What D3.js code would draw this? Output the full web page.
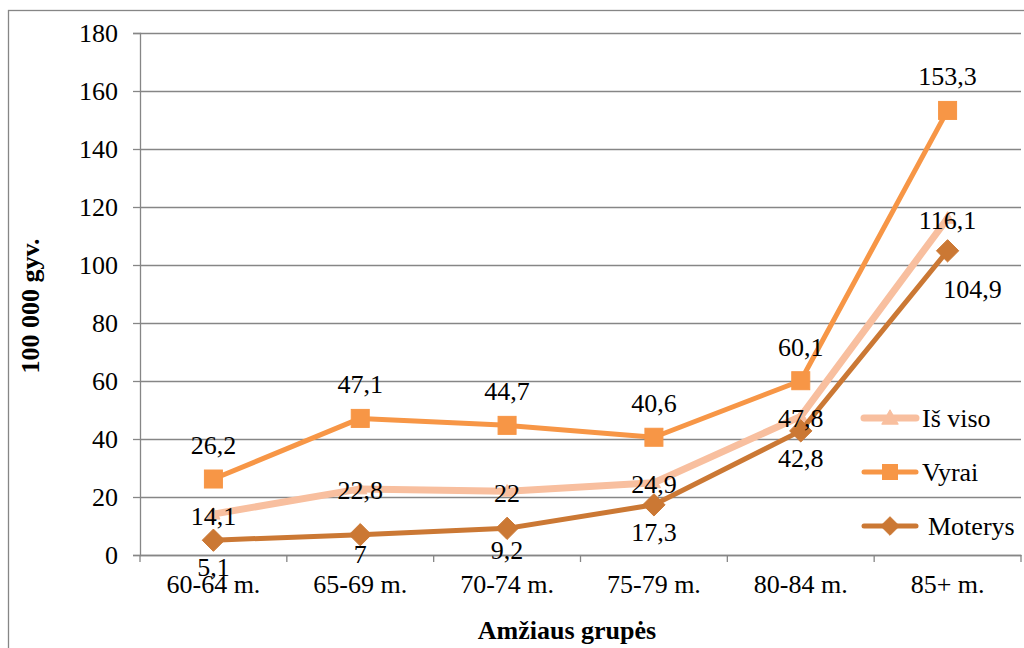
<!DOCTYPE html>
<html>
<head>
<meta charset="utf-8">
<script src="https://cdn.jsdelivr.net/npm/d3@7"></script>
<style>
  html, body { margin: 0; padding: 0; background: #fff; }
  svg { display: block; }
</style>
</head>
<body>
<svg id="chart" width="1024" height="648"></svg>
<script>
// ---- data ----
const categories = ["60-64 m.", "65-69 m.", "70-74 m.", "75-79 m.", "80-84 m.", "85+ m."];
const isViso  = [14.1, 22.8, 22, 24.9, 47.8, 116.1];
const vyrai   = [26.2, 47.1, 44.7, 40.6, 60.1, 153.3];
const moterys = [5.1, 7, 9.2, 17.3, 42.8, 104.9];
const seriesNames = ["Iš viso", "Vyrai", "Moterys"];
const yTicks = [0, 20, 40, 60, 80, 100, 120, 140, 160, 180];
const xTitle = "Amžiaus grupės";
const yTitle = "100 000 gyv.";

// ---- layout / style ----
const svg = d3.select("#chart");
const plot = { left: 140, right: 1021, top: 33, bottom: 555 };
const FONT = '"Liberation Serif"';
const FS = 26;
const gridColor = "#868686";
const styles = [
  { color: "#F8BF9F", width: 7, marker: "triangle", label: "center" },
  { color: "#F79646", width: 5, marker: "square",   label: "above" },
  { color: "#CB7834", width: 5, marker: "diamond",  label: "below" }
];
// manual label nudges (dx, dy), like hand-moved Excel labels
const labelNudge = [
  [[0,0],[0,0],[0,0],[0,0],[0,0],[0,0]],
  [[0,0],[0,0],[0,0],[0,0],[0,0],[0,0]],
  [[0,0],[0,-8],[0,-5],[0,0],[0,0],[25,11]]
];
const allSeries = [isViso, vyrai, moterys];

const x = d3.scaleBand().domain(categories).range([plot.left, plot.right]).padding(0);
const y = d3.scaleLinear().domain([0, 180]).range([plot.bottom, plot.top]);
const cx = c => x(c) + x.bandwidth() / 2;

function styleText(sel, size, weight) {
  return sel.style("font-family", FONT).style("font-size", (size || FS) + "px")
    .style("font-weight", weight || "normal").attr("fill", "#000");
}

// outer border
svg.append("rect")
  .attr("x", 8.5).attr("y", 10.5).attr("width", 1040).attr("height", 660)
  .attr("fill", "none").attr("stroke", gridColor).attr("stroke-width", 1.3);

// gridlines + y axis
const yAxis = d3.axisLeft(y).tickValues(yTicks).tickSize(7).tickPadding(15)
  .tickFormat(d => String(d));
const gy = svg.append("g").attr("transform", `translate(${plot.left},0)`).call(yAxis);
gy.select(".domain").attr("stroke", gridColor).attr("stroke-width", 1.3);
gy.selectAll(".tick line").attr("stroke", gridColor).attr("stroke-width", 1.3);
styleText(gy.selectAll(".tick text"));
gy.selectAll(".tick").append("line")
  .attr("x1", 0).attr("x2", plot.right - plot.left)
  .attr("stroke", gridColor).attr("stroke-width", 1.3);

// x axis
const xAxis = d3.axisBottom(x).tickSize(0).tickPadding(20);
const gx = svg.append("g").attr("transform", `translate(0,${plot.bottom})`).call(xAxis);
gx.select(".domain").attr("stroke", gridColor).attr("stroke-width", 1.3);
styleText(gx.selectAll(".tick text"));
const bounds = categories.map(c => x(c)).concat([plot.right]);
gx.selectAll(".btick").data(bounds).enter().append("line")
  .attr("x1", d => d).attr("x2", d => d).attr("y1", 0).attr("y2", 7)
  .attr("stroke", gridColor).attr("stroke-width", 1.3);

// marker drawing
function drawMarker(g, type, px, py, color, s) {
  if (type === "square") {
    g.append("rect").attr("x", px - s/2).attr("y", py - s/2).attr("width", s).attr("height", s)
      .attr("fill", color).attr("stroke", color).attr("stroke-width", 1);
  } else if (type === "diamond") {
    const h = s * 0.62;
    g.append("path").attr("d", `M${px},${py-h}L${px+h},${py}L${px},${py+h}L${px-h},${py}Z`)
      .attr("fill", color).attr("stroke", color).attr("stroke-width", 1);
  } else {
    const h = s * 0.55;
    g.append("path").attr("d", `M${px},${py-h}L${px+h},${py+h*0.75}L${px-h},${py+h*0.75}Z`)
      .attr("fill", color).attr("stroke", color).attr("stroke-width", 1);
  }
}

const line = d3.line().x((d, i) => cx(categories[i])).y(d => y(d));
const seriesG = svg.append("g");
allSeries.forEach((vals, si) => {
  const st = styles[si];
  const g = seriesG.append("g");
  g.append("path").datum(vals).attr("d", line)
    .attr("fill", "none").attr("stroke", st.color).attr("stroke-width", st.width)
    .attr("stroke-linejoin", "round").attr("stroke-linecap", "round");
  const size = st.marker === "triangle" ? 12 : 18;
  vals.forEach((v, i) => drawMarker(g, st.marker, cx(categories[i]), y(v), st.color, size));
});

// data labels
const fmt = v => String(v).replace(".", ",");
const labelG = svg.append("g");
allSeries.forEach((vals, si) => {
  const st = styles[si];
  vals.forEach((v, i) => {
    const nd = labelNudge[si][i];
    const dy = st.label === "above" ? -25 : st.label === "below" ? 36 : 10.5;
    styleText(labelG.append("text")
      .attr("x", cx(categories[i]) + nd[0])
      .attr("y", y(v) + dy + nd[1])
      .attr("text-anchor", "middle"))
      .text(fmt(v));
  });
});

// legend
const legendY = [418, 472, 526];
const legendTextX = [922, 922, 928];
seriesNames.forEach((name, si) => {
  const st = styles[si];
  const g = svg.append("g");
  const ly = legendY[si];
  g.append("line").attr("x1", 864).attr("x2", 916).attr("y1", ly).attr("y2", ly)
    .attr("stroke", st.color).attr("stroke-width", st.width).attr("stroke-linecap", "round");
  drawMarker(g, st.marker, 890, ly, st.color, 15);
  styleText(g.append("text").attr("x", legendTextX[si]).attr("y", ly + 9)).text(name);
});

// axis titles
styleText(svg.append("text").attr("x", 567).attr("y", 639)
  .attr("text-anchor", "middle"), 26, "bold").text(xTitle);
styleText(svg.append("text").attr("transform", `translate(39,306) rotate(-90)`)
  .attr("text-anchor", "middle"), 26, "bold").text(yTitle);
</script>
</body>
</html>
